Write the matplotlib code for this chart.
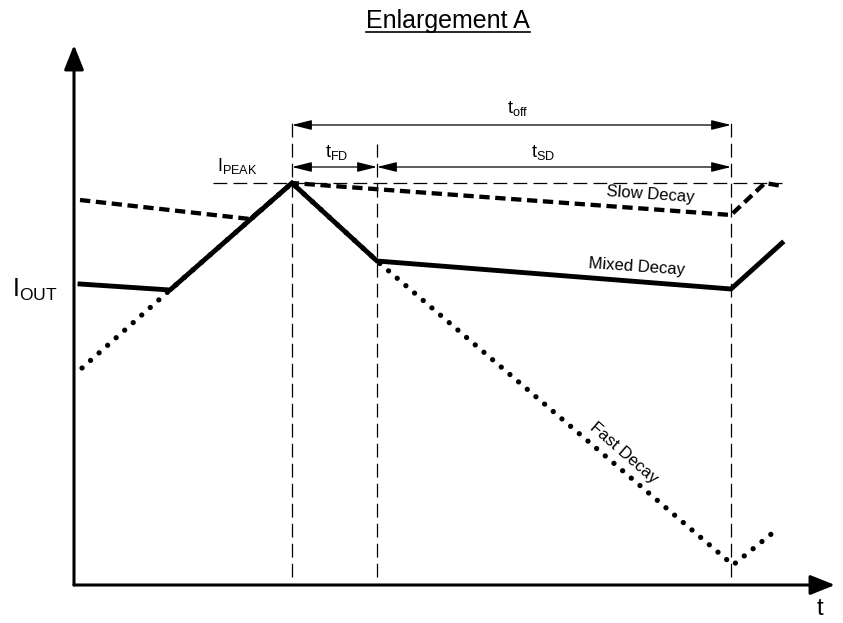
import matplotlib
matplotlib.use('Agg')
import matplotlib.pyplot as plt

plt.rcParams['font.family'] = ['Liberation Sans', 'DejaVu Sans']

# timing marks (t axis) and peak current
t_peak = 218
t_fd_end = 303
t_off_end = 657
i_peak = 402

# decay waveforms (t, I)
mixed_t = [6, 96, 218, 303, 657, 708]
mixed_i = [301, 295, 402, 324, 296, 342]

slow_t = [6, 176, 218, 657, 691, 708]
slow_i = [385, 366, 402, 370, 402, 399]

fast_t = [8, 96, 218, 303, 659, 701]
fast_i = [217, 295, 402, 324, 20, 54]

fig = plt.figure(figsize=(8.43, 6.23), dpi=100)
ax = fig.add_axes([0, 0, 1, 1])
ax.set_xlim(-74, 769)
ax.set_ylim(-38, 585)
ax.axis('off')

# axes with arrows
axis_arrow = dict(arrowstyle='-|>,head_length=0.75,head_width=0.3', lw=2.2,
                  color='black', mutation_scale=20, shrinkA=0, shrinkB=0)
ax.annotate('', xy=(0, 540), xytext=(0, 0), arrowprops=axis_arrow)
ax.annotate('', xy=(761, 0), xytext=(0, 0), arrowprops=axis_arrow)
ax.text(746, -24, 't', fontsize=17, ha='center', va='center')
ax.text(-39, 295, r'$\mathregular{I_{OUT}}$', fontsize=18, ha='center', va='center')

# thin dashed guides
guide = dict(color='black', lw=0.9, linestyle=(0, (11, 5)))
ax.plot([t_peak, t_peak], [8, 468], **guide)
ax.plot([t_fd_end, t_fd_end], [8, 441], **guide)
ax.plot([t_off_end, t_off_end], [8, 468], **guide)
ax.plot([139, 708], [i_peak, i_peak], **guide)

# waveforms
ax.plot(fast_t, fast_i, color='black', lw=3.8, linestyle=(0, (0.01, 2.15)),
        dash_capstyle='round', solid_capstyle='round')
ax.plot(slow_t, slow_i, color='black', lw=3.1, linestyle=(0, (2.4, 1.3)),
        dash_capstyle='butt')
ax.plot(mixed_t, mixed_i, color='black', lw=3.5, solid_joinstyle='miter')

# dimension arrows
dim_arrow = dict(arrowstyle='<|-|>,head_length=1.2,head_width=0.3', lw=0.9,
                 color='black', mutation_scale=10, shrinkA=0, shrinkB=0)
ax.annotate('', xy=(t_off_end, 460), xytext=(t_peak, 460), arrowprops=dim_arrow)
ax.annotate('', xy=(t_fd_end, 418), xytext=(t_peak, 418), arrowprops=dim_arrow)
ax.annotate('', xy=(t_off_end, 418), xytext=(t_fd_end, 418), arrowprops=dim_arrow)

ax.text(444, 477, r'$\mathregular{t_{off}}$', fontsize=13, ha='center', va='center')
ax.text(263, 433, r'$\mathregular{t_{FD}}$', fontsize=13, ha='center', va='center')
ax.text(469, 433, r'$\mathregular{t_{SD}}$', fontsize=13, ha='center', va='center')
ax.text(163, 419, r'$\mathregular{I_{PEAK}}$', fontsize=13, ha='center', va='center')

# curve labels
ax.text(576, 390, 'Slow Decay', fontsize=12, ha='center', va='center', rotation=-4)
ax.text(563, 318, 'Mixed Decay', fontsize=12, ha='center', va='center', rotation=-4)
ax.text(550, 132, 'Fast Decay', fontsize=12, ha='center', va='center', rotation=-41)

# underlined title
title = ax.text(374, 564, 'Enlargement A', fontsize=18, ha='center', va='center')
fig.canvas.draw()
bb = title.get_window_extent().transformed(ax.transData.inverted())
ax.plot([bb.x0, bb.x1], [bb.y0 + 1, bb.y0 + 1], color='black', lw=1.2)

fig.savefig('out.png', dpi=100)
